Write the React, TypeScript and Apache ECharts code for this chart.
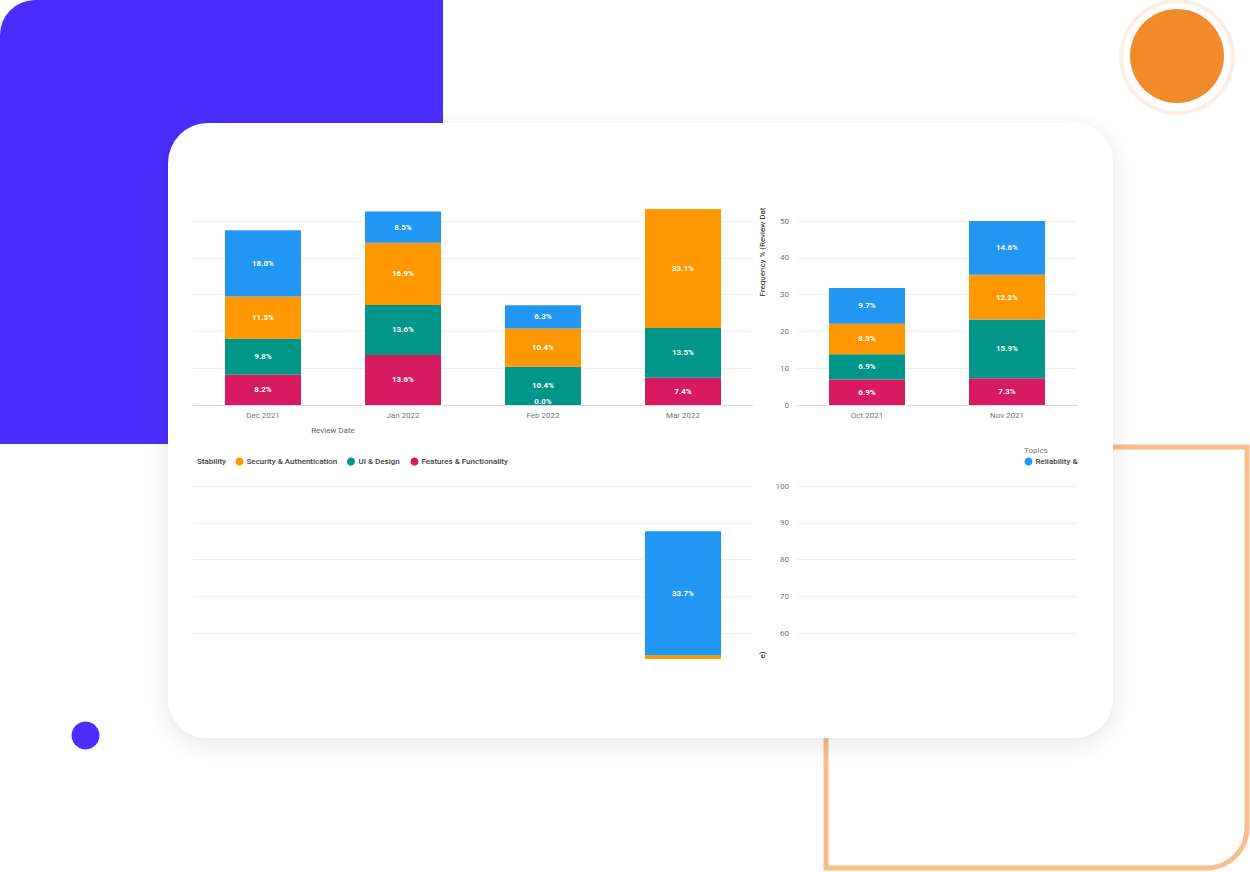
import React, { useEffect, useRef } from "react";
import * as echarts from "echarts";

// ---- data ----
const leftMonths = ["Dec 2021", "Jan 2022", "Feb 2022", "Mar 2022"];
const rightMonths = ["Oct 2021", "Nov 2021"];
const topics = [
  "Features & Functionality",
  "UI & Design",
  "Security & Authentication",
  "Reliability & Stability",
];
const topicColors = ["#D81B60", "#009688", "#FF9800", "#2196F3"];

const featuresLeft = [8.2, 13.6, 0.0, 7.4];
const uiLeft = [9.8, 13.6, 10.4, 13.5];
const securityLeft = [11.5, 16.9, 10.4, 33.1];
const reliabilityLeft = [18.0, 8.5, 6.3, 33.7];

const featuresRight = [6.9, 7.3];
const uiRight = [6.9, 15.9];
const securityRight = [8.3, 12.2];
const reliabilityRight = [9.7, 14.6];

const xAxisTitle = "Review Date";
const yAxisTitleStart = "Frequency % (Review Dat";
const yAxisTitleEnd = "e)";
const legendTitle = "Topics";

const leftSeries = [featuresLeft, uiLeft, securityLeft, reliabilityLeft];
const rightSeries = [featuresRight, uiRight, securityRight, reliabilityRight];

const FONT = "Roboto, 'Noto Sans', sans-serif";
const PX_PER_UNIT = 184 / 50;

export default function App() {
  const ref = useRef<HTMLDivElement>(null);

  useEffect(() => {
    if (!ref.current) return;
    const chart = echarts.init(ref.current, undefined, { renderer: "svg" });

    const gridLine = { show: true, lineStyle: { color: "#ededed", width: 1 } };
    const labelFmt = (p: any) => Number(p.value).toFixed(1) + "%";

    const makeData = (arr: number[]) =>
      arr.map((v) =>
        v === 0 ? { value: v, label: { position: "insideBottom", distance: 0 } } : v
      );

    const series: any[] = [];
    const grids = [0, 1, 2, 3];
    grids.forEach((g) => {
      const src = g % 2 === 0 ? leftSeries : rightSeries;
      src.forEach((arr, t) => {
        series.push({
          type: "bar",
          name: topics[t],
          xAxisIndex: g,
          yAxisIndex: g,
          stack: "s" + g,
          barWidth: 76,
          data: makeData(arr),
          itemStyle: { color: topicColors[t] },
          label: {
            show: true,
            position: "inside",
            color: "#ffffff",
            fontSize: 8,
            fontWeight: "bold",
            fontFamily: FONT,
            formatter: labelFmt,
          },
        });
      });
    });

    const catAxis = (g: number, data: string[], show: boolean) => ({
      gridIndex: g,
      type: "category",
      data,
      show,
      axisLine: { show: true, lineStyle: { color: "#dadce0" } },
      axisTick: { show: false },
      axisLabel: { color: "#757575", fontSize: 8, margin: 6, fontFamily: FONT },
    });

    const txt = (text: string, x: number, y: number, extra: any = {}) => ({
      type: "text",
      x,
      y,
      z: 5,
      style: {
        text,
        fontSize: 8,
        fontFamily: FONT,
        fill: "#3c4043",
        align: "left",
        verticalAlign: "middle",
        ...extra,
      },
    });

    const dot = (cx: number, cy: number, color: string) => ({
      type: "circle",
      z: 5,
      shape: { cx, cy, r: 4 },
      style: { fill: color },
    });

    const option: any = {
      animation: false,
      textStyle: { fontFamily: FONT },
      grid: [
        { left: 193, top: 209, width: 560, height: 196 },
        { left: 797, top: 221, width: 280, height: 184 },
        { left: 193, top: 486, width: 560, height: 184 },
        { left: 797, top: 486, width: 280, height: 184 },
      ],
      xAxis: [
        catAxis(0, leftMonths, true),
        catAxis(1, rightMonths, true),
        catAxis(2, leftMonths, false),
        catAxis(3, rightMonths, false),
      ],
      yAxis: [
        {
          gridIndex: 0,
          type: "value",
          min: 0,
          max: 196 / PX_PER_UNIT,
          interval: 10,
          axisLabel: { show: false },
          axisLine: { show: false },
          axisTick: { show: false },
          splitLine: { ...gridLine, showMaxLine: false },
        },
        {
          gridIndex: 1,
          type: "value",
          min: 0,
          max: 50,
          interval: 10,
          axisLabel: { color: "#757575", fontSize: 8, margin: 8, fontFamily: FONT },
          axisLine: { show: false },
          axisTick: { show: false },
          splitLine: gridLine,
        },
        {
          gridIndex: 2,
          type: "value",
          min: 50,
          max: 100,
          interval: 10,
          axisLabel: { show: false },
          axisLine: { show: false },
          axisTick: { show: false },
          splitLine: { ...gridLine, showMinLine: false },
        },
        {
          gridIndex: 3,
          type: "value",
          min: 50,
          max: 100,
          interval: 10,
          axisLabel: {
            color: "#757575",
            fontSize: 8,
            margin: 8,
            fontFamily: FONT,
            showMinLabel: false,
          },
          axisLine: { show: false },
          axisTick: { show: false },
          splitLine: { ...gridLine, showMinLine: false },
        },
      ],
      series,
      graphic: [
        // decorative background
        {
          type: "rect",
          z: -30,
          shape: { x: 0, y: 0, width: 443, height: 444, r: [35, 0, 0, 0] },
          style: { fill: "#4B2EFF" },
        },
        {
          type: "rect",
          z: -30,
          shape: { x: 826, y: 447, width: 421, height: 421, r: [0, 0, 40, 0] },
          style: { fill: "none", stroke: "#F6BF8E", lineWidth: 5 },
        },
        {
          type: "circle",
          z: -30,
          shape: { cx: 1177, cy: 57, r: 56 },
          style: { fill: "none", stroke: "#FDEEE2", lineWidth: 4 },
        },
        {
          type: "circle",
          z: -30,
          shape: { cx: 1177, cy: 56, r: 47 },
          style: { fill: "#F08A2A" },
        },
        {
          type: "circle",
          z: -30,
          shape: { cx: 85.5, cy: 735.5, r: 14 },
          style: { fill: "#4B2EFF" },
        },
        // card
        {
          type: "rect",
          z: -20,
          shape: { x: 168, y: 123, width: 945, height: 615, r: 40 },
          style: {
            fill: "#ffffff",
            shadowBlur: 24,
            shadowColor: "rgba(0,0,0,0.10)",
            shadowOffsetY: 6,
          },
        },
        // crop mask below the lower chart fragment
        {
          type: "rect",
          z: 100,
          shape: { x: 185, y: 659, width: 905, height: 40 },
          style: { fill: "#ffffff" },
        },
        // axis titles
        txt(xAxisTitle, 333, 430, { align: "center", fill: "#666666" }),
        {
          type: "text",
          x: 762,
          y: 252,
          z: 5,
          rotation: Math.PI / 2,
          style: {
            text: yAxisTitleStart,
            fontSize: 8,
            fontFamily: FONT,
            fill: "#222222",
            align: "center",
            verticalAlign: "middle",
          },
        },
        {
          type: "text",
          x: 762,
          y: 655,
          z: 101,
          rotation: Math.PI / 2,
          style: {
            text: yAxisTitleEnd,
            fontSize: 8,
            fontFamily: FONT,
            fill: "#222222",
            align: "center",
            verticalAlign: "middle",
          },
        },
        // legend fragments
        txt("Stability", 197, 461.5, { fontWeight: 500 }),
        dot(239.5, 461.5, topicColors[2]),
        txt(topics[2], 246.5, 461.5, { fontWeight: 500 }),
        dot(351, 461.5, topicColors[1]),
        txt(topics[1], 358.5, 461.5, { fontWeight: 500 }),
        dot(414.5, 461.5, topicColors[0]),
        txt(topics[0], 421.5, 461.5, { fontWeight: 500 }),
        txt(legendTitle, 1024, 450, { fill: "#757575" }),
        dot(1028.5, 461.5, topicColors[3]),
        txt(topics[3], 1035.5, 461.5, {
          fontWeight: 500,
          width: 46,
          overflow: "truncate",
          ellipsis: "",
        }),
      ],
    };

    chart.setOption(option);
    return () => chart.dispose();
  }, []);

  return (
    <div
      ref={ref}
      style={{ position: "fixed", left: 0, top: 0, width: 1250, height: 872, background: "#ffffff" }}
    />
  );
}
